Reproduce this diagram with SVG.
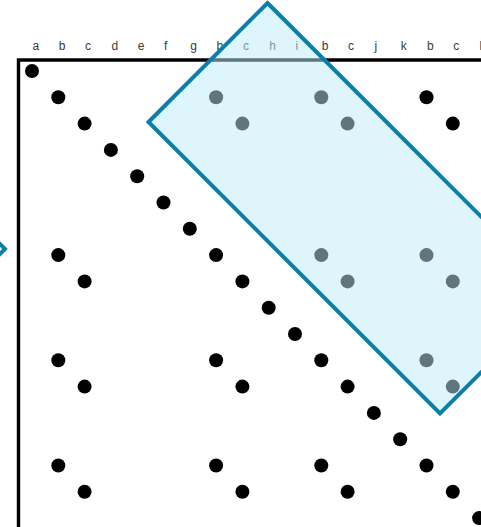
<svg xmlns="http://www.w3.org/2000/svg" width="481" height="527" viewBox="0 0 481 527">
<style>
.lbl{font-family:"Liberation Sans",Arial,sans-serif;font-size:12px;fill:#3a3a3a}
.dot{fill:#000}
.frame{fill:none;stroke:#000;stroke-width:3.4}
.hl{fill:#c0ecfa;fill-opacity:0.5;stroke:#0a7fac;stroke-width:4;stroke-linejoin:miter}
.mark{fill:none;stroke:#0a7fac;stroke-width:4}
</style>
<rect width="481" height="527" fill="#fff"/>
<g id="labels">
<text class="lbl" x="32.5" y="50">a</text>
<text class="lbl" x="58.8" y="50">b</text>
<text class="lbl" x="85.1" y="50">c</text>
<text class="lbl" x="111.4" y="50">d</text>
<text class="lbl" x="137.7" y="50">e</text>
<text class="lbl" x="164" y="50">f</text>
<text class="lbl" x="190.3" y="50">g</text>
<text class="lbl" x="216.6" y="50">b</text>
<text class="lbl" x="242.9" y="50">c</text>
<text class="lbl" x="269.2" y="50">h</text>
<text class="lbl" x="295.5" y="50">i</text>
<text class="lbl" x="321.8" y="50">b</text>
<text class="lbl" x="348.1" y="50">c</text>
<text class="lbl" x="374.4" y="50">j</text>
<text class="lbl" x="400.7" y="50">k</text>
<text class="lbl" x="427" y="50">b</text>
<text class="lbl" x="453.3" y="50">c</text>
<text class="lbl" x="479.6" y="50">l</text>
</g>
<path id="frame" class="frame" d="M18.5,527 V60 H481"/>
<g id="dots" class="dot">
<circle cx="32" cy="71" r="7"/>
<circle cx="58.3" cy="97.3" r="7"/>
<circle cx="84.6" cy="123.6" r="7"/>
<circle cx="110.9" cy="149.9" r="7"/>
<circle cx="137.2" cy="176.2" r="7"/>
<circle cx="163.5" cy="202.5" r="7"/>
<circle cx="189.8" cy="228.8" r="7"/>
<circle cx="216.1" cy="255.1" r="7"/>
<circle cx="242.4" cy="281.4" r="7"/>
<circle cx="268.7" cy="307.7" r="7"/>
<circle cx="295" cy="334" r="7"/>
<circle cx="321.3" cy="360.3" r="7"/>
<circle cx="347.6" cy="386.6" r="7"/>
<circle cx="373.9" cy="412.9" r="7"/>
<circle cx="400.2" cy="439.2" r="7"/>
<circle cx="426.5" cy="465.5" r="7"/>
<circle cx="452.8" cy="491.8" r="7"/>
<circle cx="479.1" cy="518.1" r="7"/>
<circle cx="216.1" cy="97.3" r="7"/>
<circle cx="242.4" cy="123.6" r="7"/>
<circle cx="321.3" cy="97.3" r="7"/>
<circle cx="347.6" cy="123.6" r="7"/>
<circle cx="426.5" cy="97.3" r="7"/>
<circle cx="452.8" cy="123.6" r="7"/>
<circle cx="58.3" cy="255.1" r="7"/>
<circle cx="84.6" cy="281.4" r="7"/>
<circle cx="321.3" cy="255.1" r="7"/>
<circle cx="347.6" cy="281.4" r="7"/>
<circle cx="426.5" cy="255.1" r="7"/>
<circle cx="452.8" cy="281.4" r="7"/>
<circle cx="58.3" cy="360.3" r="7"/>
<circle cx="84.6" cy="386.6" r="7"/>
<circle cx="216.1" cy="360.3" r="7"/>
<circle cx="242.4" cy="386.6" r="7"/>
<circle cx="426.5" cy="360.3" r="7"/>
<circle cx="452.8" cy="386.6" r="7"/>
<circle cx="58.3" cy="465.5" r="7"/>
<circle cx="84.6" cy="491.8" r="7"/>
<circle cx="216.1" cy="465.5" r="7"/>
<circle cx="242.4" cy="491.8" r="7"/>
<circle cx="321.3" cy="465.5" r="7"/>
<circle cx="347.6" cy="491.8" r="7"/>
</g>
<g id="highlight">
<polygon class="hl" points="267.5,3 559,294.5 440,413.5 148.5,122"/>
</g>
<g id="left-marker">
<polygon class="mark" points="-20,224 5,249 -20,274 -45,249"/>
</g>
</svg>
